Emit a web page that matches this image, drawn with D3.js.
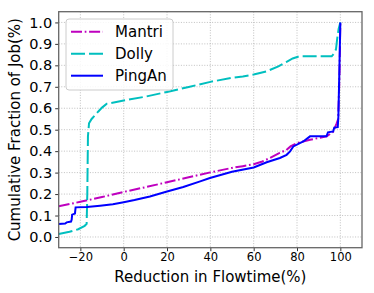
<!DOCTYPE html>
<html><head><meta charset="utf-8">
<script src="https://cdn.jsdelivr.net/npm/d3@7"></script>
<style>body{margin:0;background:#fff}svg{display:block}text{font-family:"DejaVu Sans",sans-serif}</style>
</head><body><svg id="c" width="374" height="293"></svg>
<script>
const xTicks = [-20, 0, 20, 40, 60, 80, 100];
const yTicks = [0.0, 0.1, 0.2, 0.3, 0.4, 0.5, 0.6, 0.7, 0.8, 0.9, 1.0];
const seriesNames = ["Mantri", "Dolly", "PingAn"];
const mantri = [[-30,0.143],[-20,0.164],[-10,0.186],[0,0.21],[10,0.232],[20,0.255],[30,0.278],[40,0.301],[50,0.322],[55,0.33],[60,0.339],[64,0.352],[67.5,0.368],[72,0.392],[75,0.405],[77,0.422],[80,0.438],[86,0.453],[93.7,0.469],[96.7,0.49],[98.3,0.53],[99,0.55],[99.6,0.75],[100,1.0]];
const dolly = [[-30,0.014],[-25,0.024],[-21,0.036],[-18,0.052],[-17.1,0.061],[-16.8,0.2],[-16.5,0.469],[-16,0.53],[-14.8,0.55],[-13,0.57],[-11.7,0.585],[-10,0.603],[-7.8,0.621],[-4,0.628],[0,0.636],[10,0.654],[20,0.676],[30,0.699],[40,0.723],[50,0.742],[55,0.748],[60,0.757],[66,0.772],[71.4,0.795],[75,0.815],[78,0.832],[81,0.842],[96,0.842],[97.2,0.857],[98,0.875],[98.5,0.92],[99.2,0.97],[100,1.0]];
const pingan = [[-30,0.061],[-27,0.063],[-26.3,0.068],[-24.3,0.072],[-24,0.081],[-23.8,0.104],[-22.5,0.109],[-22.2,0.138],[-17,0.140],[-10.9,0.146],[-5,0.153],[0,0.162],[5,0.172],[12.1,0.189],[20,0.212],[27.5,0.233],[35.3,0.259],[39.8,0.275],[50,0.304],[60,0.324],[66,0.348],[72.1,0.368],[75.2,0.383],[76.8,0.399],[78.3,0.422],[82.9,0.445],[86,0.469],[93.6,0.469],[94.3,0.488],[96.7,0.492],[97.2,0.51],[98.8,0.512],[99.1,0.56],[99.6,0.8],[100,1.0]];
const seriesData = [mantri, dolly, pingan];
const colors = ["#bf00bf", "#00bfbf", "#0000ff"];
const dashes = ["11,2.7,1.7,2.7", "14,4", null];

const svg = d3.select("#c");
const L = 58.7, R = 362, T = 11.7, B = 247.7;
const x = d3.scaleLinear().domain([-30, 110]).range([L, R]);
const y = d3.scaleLinear().domain([-0.05, 1.05]).range([B, T]);

// grid
const g = svg.append("g");
xTicks.forEach(t => g.append("line").attr("x1", x(t)).attr("x2", x(t)).attr("y1", T).attr("y2", B)
  .attr("stroke", "#b0b0b0").attr("stroke-width", 0.8).attr("stroke-dasharray", "1,1.6"));
yTicks.forEach(t => g.append("line").attr("x1", L).attr("x2", R).attr("y1", y(t)).attr("y2", y(t))
  .attr("stroke", "#b0b0b0").attr("stroke-width", 0.8).attr("stroke-dasharray", "1,1.6"));

// lines
svg.append("clipPath").attr("id", "pc").append("rect").attr("x", L).attr("y", T).attr("width", R - L).attr("height", B - T);
const line = d3.line().x(d => x(d[0])).y(d => y(d[1]));
seriesData.forEach((s, i) => {
  svg.append("path").datum(s).attr("d", line).attr("fill", "none").attr("clip-path", "url(#pc)")
    .attr("stroke", colors[i]).attr("stroke-width", 2).attr("stroke-dasharray", dashes[i]);
});

// axes
const xAxis = d3.axisBottom(x).tickValues(xTicks).tickSize(3.5).tickPadding(2).tickFormat(d => d < 0 ? "\u2212" + Math.abs(d) : d);
const ax = svg.append("g").attr("transform", `translate(0,${B})`).call(xAxis);
ax.select(".domain").remove();
ax.selectAll("line").attr("stroke", "#333");
ax.selectAll("text").attr("font-size", 11.5).attr("fill", "#000").attr("font-family", "DejaVu Sans");
const yAxis = d3.axisLeft(y).tickValues(yTicks).tickSize(3.5).tickPadding(3).tickFormat(d3.format(".1f"));
const ay = svg.append("g").attr("transform", `translate(${L},0)`).call(yAxis);
ay.select(".domain").remove();
ay.selectAll("line").attr("stroke", "#333");
ay.selectAll("text").attr("font-size", 14.5).attr("fill", "#000").attr("font-family", "DejaVu Sans");

// frame
svg.append("rect").attr("x", L).attr("y", T).attr("width", R - L).attr("height", B - T)
  .attr("fill", "none").attr("stroke", "#666").attr("stroke-width", 1.3);

// labels
svg.append("text").attr("x", (L + R) / 2).attr("y", 282).attr("text-anchor", "middle")
  .attr("font-size", 15).text("Reduction in Flowtime(%)");
svg.append("text").attr("transform", `translate(19.5,${(T + B) / 2}) rotate(-90)`).attr("text-anchor", "middle")
  .attr("font-size", 15).text("Cumulative Fraction of Job(%)");

// legend
const lg = svg.append("g");
lg.append("rect").attr("x", 66).attr("y", 19).attr("width", 107).attr("height", 71).attr("rx", 3)
  .attr("fill", "#fff").attr("fill-opacity", 0.85).attr("stroke", "#ccc").attr("stroke-width", 1);
seriesNames.forEach((n, i) => {
  const yy = 31.7 + i * 22;
  lg.append("line").attr("x1", 71).attr("x2", 103).attr("y1", yy).attr("y2", yy)
    .attr("stroke", colors[i]).attr("stroke-width", 2).attr("stroke-dasharray", dashes[i]);
  lg.append("text").attr("x", 115).attr("y", yy).attr("dy", "0.36em").attr("font-size", 15).text(n);
});
</script></body></html>
